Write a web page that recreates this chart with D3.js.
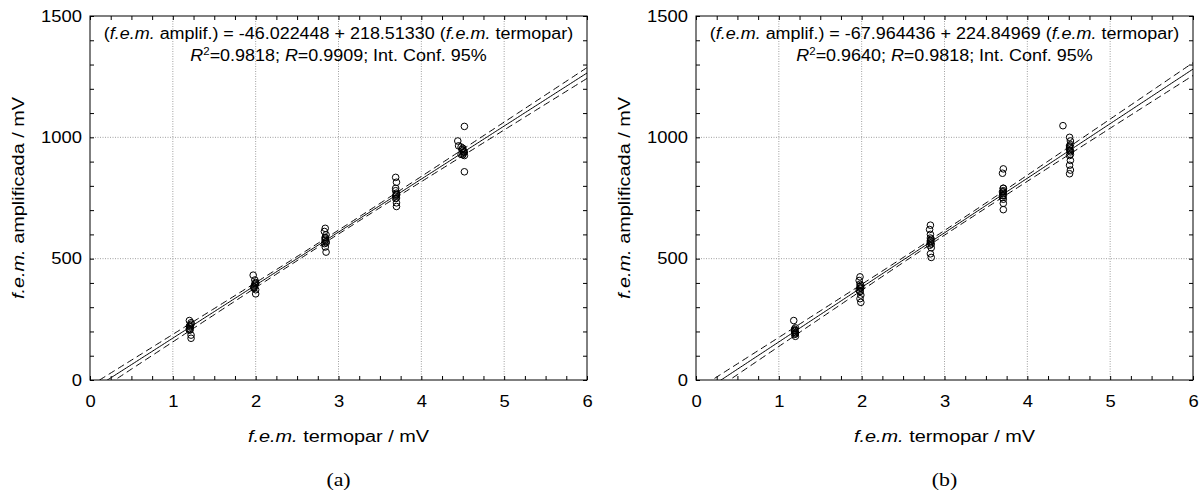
<!DOCTYPE html>
<html>
<head>
<meta charset="utf-8">
<script src="https://cdn.jsdelivr.net/npm/d3@7"></script>
<style>
  body { margin: 0; background: #fff; }
  svg text { font-family: "Liberation Sans", Arial, sans-serif; fill: #000; }
</style>
</head>
<body>
<svg id="chart" width="1202" height="495"></svg>
<script>
// Axis ticks
const xTicks = [0, 1, 2, 3, 4, 5, 6];
const yTicks = [0, 500, 1000, 1500];
const xMinorStep = 0.25;
const yMinorStep = 100;

// Student t for a 95% two-sided interval (about 60 degrees of freedom)
const tCrit = 2.00;

// (a) thermocouple emf (mV) vs amplified emf (mV), repeated readings at five levels
const termoparA = [
  1.20, 1.22, 1.20, 1.21, 1.22, 1.22, 1.21, 1.20, 1.21, 1.22, 1.20,
  1.97, 1.99, 2.00, 1.98, 2.00, 2.00, 1.99, 1.98, 1.99, 2.00, 1.98,
  2.84, 2.83, 2.85, 2.84, 2.85, 2.84, 2.85, 2.84, 2.85, 2.84, 2.83, 2.84,
  3.69, 3.70, 3.69, 3.70, 3.69, 3.70, 3.70, 3.70, 3.69, 3.70, 3.69, 3.70,
  4.52, 4.44, 4.45, 4.50, 4.52, 4.48, 4.52, 4.52, 4.50, 4.51, 4.49, 4.50, 4.51, 4.48
];
const amplifA = [
  245, 236, 222, 208, 185, 172, 225, 212, 218, 230, 205,
  432, 412, 398, 385, 372, 355, 395, 382, 390, 402, 378,
  625, 612, 598, 585, 565, 548, 527, 580, 570, 588, 562, 575,
  835, 815, 790, 765, 748, 730, 715, 770, 758, 750, 780, 762,
  1045, 985, 965, 955, 940, 930, 925, 858, 945, 935, 950, 928, 940, 960
];
const fitA = { intercept: -46.022448, slope: 218.51330, r2: "0.9818", r: "0.9909",
               interceptText: "-46.022448", slopeText: "218.51330" };

// (b) second data set
const termoparB = [
  1.18, 1.20, 1.19, 1.20, 1.19, 1.20, 1.19, 1.20, 1.19, 1.20, 1.19,
  1.98, 1.97, 1.98, 1.99, 1.98, 1.99, 1.98, 1.99, 1.98, 1.97, 1.98, 1.99, 1.98,
  2.83, 2.82, 2.83, 2.84, 2.83, 2.84, 2.83, 2.84, 2.83, 2.84, 2.83, 2.82, 2.83,
  3.71, 3.70, 3.71, 3.71, 3.70, 3.71, 3.71, 3.71, 3.70, 3.71, 3.71, 3.70, 3.71, 3.71,
  4.43, 4.51, 4.52, 4.51, 4.52, 4.51, 4.52, 4.51, 4.52, 4.51, 4.51, 4.52, 4.51, 4.52, 4.51, 4.52
];
const amplifB = [
  245, 215, 205, 195, 188, 180, 205, 195, 210, 190, 200,
  425, 410, 395, 380, 365, 350, 335, 320, 385, 370, 378, 390, 365,
  638, 620, 600, 580, 565, 545, 520, 505, 575, 560, 585, 555, 570,
  870, 852, 790, 775, 760, 745, 728, 702, 775, 760, 780, 752, 768, 790,
  1048, 1000, 985, 965, 945, 925, 905, 885, 865, 850, 955, 940, 960, 930, 948, 970
];
const fitB = { intercept: -67.964436, slope: 224.84969, r2: "0.9640", r: "0.9818",
               interceptText: "-67.964436", slopeText: "224.84969" };

const panels = [
  { id: "a", xs: termoparA, ys: amplifA, fit: fitA, left: 90, right: 587 },
  { id: "b", xs: termoparB, ys: amplifB, fit: fitB, left: 696, right: 1193 }
];
const plotTop = 16, plotBottom = 380;
const WIDEN = 1.15;   // horizontal stretch applied to all lettering

const svg = d3.select("#chart");

// half-width of the 95% confidence band of the fitted line
function confHalfWidth(xs, ys, a, b) {
  const n = xs.length;
  const xm = d3.mean(xs);
  const sxx = d3.sum(xs, x => (x - xm) ** 2);
  const sse = d3.sum(xs, (x, i) => (ys[i] - a - b * x) ** 2);
  const s = Math.sqrt(sse / (n - 2));
  return x => tCrit * s * Math.sqrt(1 / n + (x - xm) ** 2 / sxx);
}

function italicFem(sel) {
  sel.append("tspan").attr("font-style", "italic").text("f.e.m.");
}

panels.forEach(p => {
  const x = d3.scaleLinear().domain([xTicks[0], xTicks[xTicks.length - 1]]).range([p.left, p.right]);
  const y = d3.scaleLinear().domain([yTicks[0], yTicks[yTicks.length - 1]]).range([plotBottom, plotTop]);
  const g = svg.append("g");
  const w = p.right - p.left, h = plotBottom - plotTop;
  const cx = (p.left + p.right) / 2;

  g.append("clipPath").attr("id", "clip-" + p.id)
    .append("rect").attr("x", p.left).attr("y", plotTop).attr("width", w).attr("height", h);

  // dotted grid at major ticks
  const grid = g.append("g").attr("stroke", "#a0a0a0").attr("stroke-width", 1)
    .attr("stroke-dasharray", "1,1.5");
  grid.selectAll("line.vx").data(xTicks.slice(1, -1)).join("line")
    .attr("x1", d => x(d)).attr("x2", d => x(d)).attr("y1", plotTop).attr("y2", plotBottom);
  grid.selectAll("line.hy").data(yTicks.slice(1, -1)).join("line")
    .attr("x1", p.left).attr("x2", p.right).attr("y1", d => y(d)).attr("y2", d => y(d));

  // fitted line and confidence band
  const a = p.fit.intercept, b = p.fit.slope;
  const hw = confHalfWidth(p.xs, p.ys, a, b);
  const xsLine = d3.range(0, 6.0001, 0.02);
  const plot = g.append("g").attr("clip-path", "url(#clip-" + p.id + ")");
  const line = d3.line().x(d => x(d[0])).y(d => y(d[1]));
  plot.append("path")
    .attr("d", line(xsLine.map(v => [v, a + b * v])))
    .attr("fill", "none").attr("stroke", "#000").attr("stroke-width", 1);
  [1, -1].forEach(sgn => {
    plot.append("path")
      .attr("d", line(xsLine.map(v => [v, a + b * v + sgn * hw(v)])))
      .attr("fill", "none").attr("stroke", "#000").attr("stroke-width", 1)
      .attr("stroke-dasharray", "7,4");
  });

  // observations
  plot.selectAll("circle").data(p.xs.map((v, i) => [v, p.ys[i]])).join("circle")
    .attr("cx", d => x(d[0])).attr("cy", d => y(d[1])).attr("r", 3.3)
    .attr("fill", "none").attr("stroke", "#000").attr("stroke-width", 1);

  // frame
  g.append("rect").attr("x", p.left).attr("y", plotTop).attr("width", w).attr("height", h)
    .attr("fill", "none").attr("stroke", "#000").attr("stroke-width", 1);

  // axes: inward ticks on all four sides, labels on bottom and left
  const xMinor = d3.range(0, 6.0001, xMinorStep);
  const yMinor = d3.range(0, 1500.001, yMinorStep);
  const fmtX = d => (xTicks.includes(Math.round(d * 1000) / 1000) ? d3.format("d")(d) : "");
  const fmtY = d => (yTicks.includes(Math.round(d)) ? d3.format("d")(d) : "");

  const styleAxis = sel => {
    sel.select(".domain").remove();
    sel.selectAll("text").attr("font-size", 16).attr("fill", "#000")
      .attr("transform", `scale(${WIDEN},1)`);
    sel.selectAll("line").attr("stroke", "#000");
  };
  g.append("g").attr("transform", `translate(0,${plotBottom})`)
    .call(d3.axisBottom(x).tickValues(xMinor).tickSize(-4).tickPadding(16).tickFormat(fmtX))
    .call(styleAxis);
  g.append("g").attr("transform", `translate(0,${plotTop})`)
    .call(d3.axisTop(x).tickValues(xMinor).tickSize(-4).tickFormat(""))
    .call(styleAxis);
  g.append("g").attr("transform", `translate(${p.left},0)`)
    .call(d3.axisLeft(y).tickValues(yMinor).tickSize(-4).tickPadding(7).tickFormat(fmtY))
    .call(styleAxis);
  g.append("g").attr("transform", `translate(${p.right},0)`)
    .call(d3.axisRight(y).tickValues(yMinor).tickSize(-4).tickFormat(""))
    .call(styleAxis);

  // axis titles
  const xt = g.append("text").attr("transform", `translate(${cx},442) scale(${WIDEN},1)`)
    .attr("text-anchor", "middle").attr("font-size", 17.3);
  italicFem(xt);
  xt.append("tspan").text(" termopar / mV");

  const yt = g.append("text")
    .attr("transform", `translate(${p.left - 72},${(plotTop + plotBottom) / 2}) rotate(-90) scale(${WIDEN},1)`)
    .attr("text-anchor", "middle").attr("dominant-baseline", "central").attr("font-size", 17.3);
  italicFem(yt);
  yt.append("tspan").text(" amplificada / mV");

  // regression annotation
  const t1 = g.append("text").attr("transform", `translate(${cx},39) scale(${WIDEN},1)`)
    .attr("text-anchor", "middle").attr("font-size", 15.6);
  t1.append("tspan").text("(");
  italicFem(t1);
  t1.append("tspan").text(` amplif.) = ${p.fit.interceptText} + ${p.fit.slopeText} (`);
  italicFem(t1);
  t1.append("tspan").text(" termopar)");

  const t2 = g.append("text").attr("transform", `translate(${cx},61) scale(${WIDEN},1)`)
    .attr("text-anchor", "middle").attr("font-size", 15.6);
  t2.append("tspan").attr("font-style", "italic").text("R");
  t2.append("tspan").attr("font-size", 10).attr("dy", -6).text("2");
  t2.append("tspan").attr("dy", 6).text(`=${p.fit.r2}; `);
  t2.append("tspan").attr("font-style", "italic").text("R");
  t2.append("tspan").text(`=${p.fit.r}; Int. Conf. 95%`);

  // panel letter
  g.append("text").attr("transform", `translate(${cx},486) scale(${WIDEN},1)`)
    .attr("text-anchor", "middle")
    .style("font-family", '"Liberation Serif", "Times New Roman", serif')
    .attr("font-size", 19).text(`(${p.id})`);
});
</script>
</body>
</html>
